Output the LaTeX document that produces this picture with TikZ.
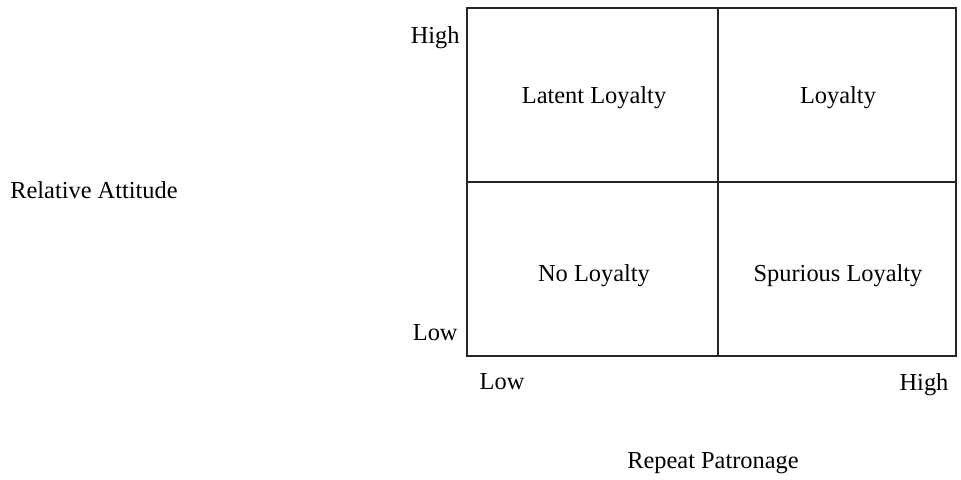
\documentclass[tikz,border=0pt]{standalone}
\usepackage{fontspec}
\setmainfont{Liberation Serif}
\usetikzlibrary{positioning}

\begin{document}
\begin{tikzpicture}[x=0.5pt, y=-0.5pt]
    \tikzstyle{grid} = [line width=0.75pt, black!85]
    \tikzstyle{cell} = [inner sep=0pt, font=\fontsize{12.2}{15}\selectfont]
    \tikzstyle{axis} = [inner sep=0pt, font=\fontsize{12.2}{15}\selectfont]

    \useasboundingbox (0,0) rectangle (961,479);

    % corners of the grid
    \coordinate (tl) at (467,8);
    \coordinate (br) at (956,356);
    \coordinate (tm) at (718,8);
    \coordinate (bm) at (718,356);
    \coordinate (ml) at (467,182);
    \coordinate (mr) at (956,182);

    \draw[grid] (tl) rectangle (br);
    \draw[grid] (tm) -- (bm);
    \draw[grid] (ml) -- (mr);

    \path
        node[cell] (latent) at (594,98) {Latent Loyalty}
        node[cell] (loyal) at (838,98) {Loyalty}
        node[cell] (none) at (594,276) {No Loyalty}
        node[cell] (spur) at (838,276) {Spurious Loyalty}

        node[axis, anchor=east] (yhigh) at (460,38) {High}
        node[axis, anchor=east] (ylow) at (458,333) {Low}
        node[axis] (xlow) at (502,382) {Low}
        node[axis] (xhigh) at (924,385) {High}
        node[axis] (xlab) at (713,463) {Repeat Patronage}
        node[axis] (ylab) at (94,190) {Relative Attitude}
    ;

\end{tikzpicture}
\end{document}
